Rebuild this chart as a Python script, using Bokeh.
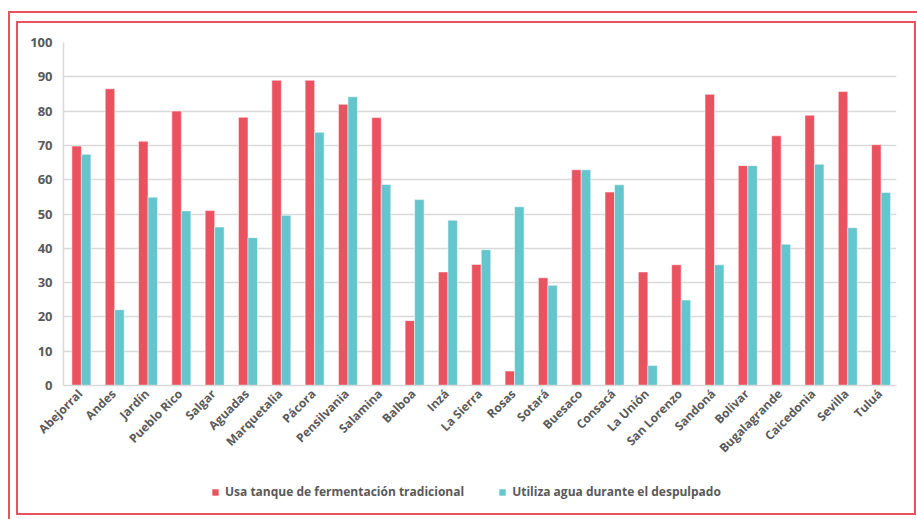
import math
from bokeh.plotting import figure
from bokeh.layouts import column
from bokeh.models import ColumnDataSource, FactorRange, FixedTicker, Legend, LegendItem, Range1d
from bokeh.transform import dodge
from bokeh.embed import file_html
from bokeh.resources import INLINE

municipios = ["Abejorral", "Andes", "Jardín", "Pueblo Rico", "Salgar", "Aguadas", "Marquetalia",
              "Pácora", "Pensilvania", "Salamina", "Balboa", "Inzá", "La Sierra", "Rosas", "Sotará",
              "Buesaco", "Consacá", "La Unión", "San Lorenzo", "Sandoná", "Bolivar", "Bugalagrande",
              "Caicedonia", "Sevilla", "Tuluá"]
tanque = [69.8, 86.5, 71.2, 80.0, 51.0, 78.2, 89.0, 89.0, 82.0, 78.1, 18.9, 33.1, 35.3, 4.2, 31.4,
          62.9, 56.4, 33.1, 35.2, 84.9, 64.1, 72.8, 78.8, 85.7, 70.2]
agua = [67.4, 22.1, 54.9, 50.9, 46.2, 43.1, 49.6, 73.8, 84.2, 58.6, 54.2, 48.2, 39.6, 52.1, 29.2,
        62.9, 58.5, 5.8, 24.9, 35.2, 64.1, 41.2, 64.5, 46.0, 56.3]
serie_labels = ["Usa tanque de fermentación tradicional", "Utiliza agua durante el despulpado"]
y_ticks = [0, 10, 20, 30, 40, 50, 60, 70, 80, 90, 100]

RED = "#EA5260"
TEAL = "#65C5CC"
TXT = "#595959"
GRID = "#D9D9D9"
FONT = "Open Sans"

src = ColumnDataSource(dict(m=municipios, t=tanque, a=agua))
xr = FactorRange(*municipios, range_padding=0)

# ---- main chart ----
p = figure(width=917, height=465, x_range=xr,
           y_range=(0, 100), output_backend="svg", toolbar_location=None,
           min_border_left=63, min_border_right=21, min_border_top=42, min_border_bottom=80)
p.outline_line_color = None
p.background_fill_alpha = 0
p.border_fill_alpha = 0

bar_red = dict(x=dodge("m", -0.105, range=xr), top="t", width=0.285, source=src,
               fill_color=RED, line_color="white", line_alpha=0.5, line_width=1)
bar_teal = dict(x=dodge("m", 0.18, range=xr), top="a", width=0.285, source=src,
                fill_color=TEAL, line_color="white", line_alpha=0.5, line_width=1)
p.vbar(**bar_red)
p.vbar(**bar_teal)

p.xgrid.grid_line_color = None
p.ygrid.grid_line_color = GRID
p.ygrid.grid_line_width = 1.5
p.yaxis.ticker = FixedTicker(ticks=y_ticks)

for ax in (p.xaxis[0], p.yaxis[0]):
    ax.axis_line_color = GRID
    ax.axis_line_width = 1.5
    ax.major_tick_line_color = None
    ax.minor_tick_line_color = None
    ax.major_tick_out = 0
    ax.major_label_text_font = FONT
    ax.major_label_text_font_style = "bold"
    ax.major_label_text_color = TXT

p.yaxis.major_label_text_font_size = "13px"
p.xaxis.major_label_text_font_size = "12px"
p.yaxis.major_label_standoff = 11
p.xaxis.major_label_standoff = 6
p.xaxis.major_label_orientation = math.pi / 4

# ---- legend strip (same series, drawn out of view; only the legend shows) ----
lg = figure(width=917, height=54, x_range=xr, y_range=Range1d(1000, 1001), output_backend="svg",
            toolbar_location=None, x_axis_type=None, y_axis_type=None,
            min_border=0)
lg.outline_line_color = None
lg.background_fill_alpha = 0
lg.border_fill_alpha = 0
lg.xgrid.grid_line_color = None
lg.ygrid.grid_line_color = None
s1 = lg.vbar(**bar_red)
s2 = lg.vbar(**bar_teal)
s1.glyph.line_color = None
s2.glyph.line_color = None
legend = Legend(items=[LegendItem(label=serie_labels[0], renderers=[s1]),
                       LegendItem(label=serie_labels[1], renderers=[s2])],
                location=(148, 19), orientation="horizontal",
                border_line_color=None, background_fill_alpha=0,
                padding=0, margin=0, spacing=34,
                glyph_width=8, glyph_height=8, label_standoff=6,
                label_text_font=FONT, label_text_font_style="bold",
                label_text_color=TXT, label_text_font_size="12px")
lg.add_layout(legend, "center")

page = column(p, lg, spacing=0)

# decorative double red frame painted behind the transparent canvases
g = "linear-gradient(%s, %s)" % (RED, RED)
frame_lines = [
    ("8px 11px", "2px 520px"),    # outer left
    ("8px 11px", "920px 2px"),    # outer top
    ("16px 21px", "2px 494px"),   # inner left
    ("16px 21px", "900px 2px"),   # inner top
    ("914px 21px", "2px 494px"),  # inner right
    ("16px 513px", "900px 2px"),  # inner bottom
]
page.styles = {
    "background-color": "white",
    "background-image": ", ".join([g] * len(frame_lines)),
    "background-position": ", ".join(pos for pos, _ in frame_lines),
    "background-size": ", ".join(size for _, size in frame_lines),
    "background-repeat": "no-repeat",
}

open("out.html", "w").write(file_html(page, INLINE))
